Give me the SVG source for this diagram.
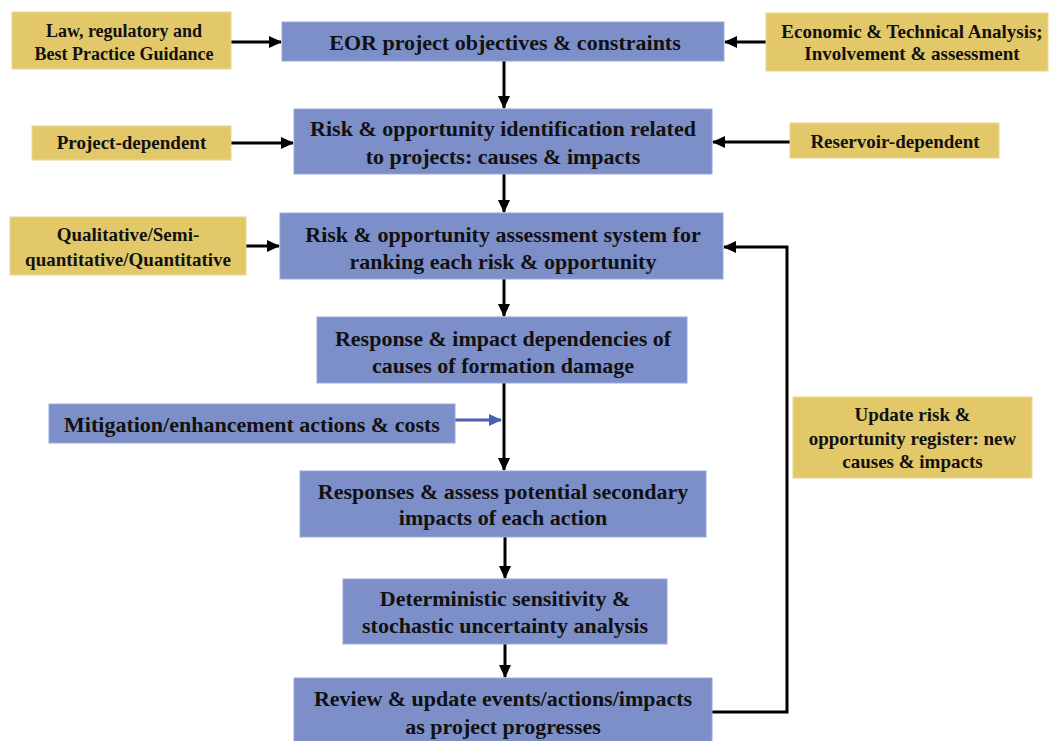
<svg xmlns="http://www.w3.org/2000/svg" width="1051" height="741" viewBox="0 0 1051 741">
<style>
.blue{fill:#7d8fc9;stroke:#9aa8d8;stroke-width:1}
.yel{fill:#e3c86a;stroke:#ecd690;stroke-width:1}
text{font-family:"Liberation Serif","Times New Roman",serif;font-weight:bold;fill:#111;text-anchor:middle}
.t20{font-size:22px}
.t17{font-size:19px}
.t18{font-size:18px}
.c{fill:none;stroke:#000;stroke-width:3}
.cb{fill:none;stroke:#4a5fb4;stroke-width:3}
</style>
<defs>
<marker id="ah" markerUnits="userSpaceOnUse" markerWidth="14" markerHeight="14" viewBox="0 0 14 14" refX="12" refY="7" orient="auto">
<path d="M0,1 L13,7 L0,13 Z" fill="#000"/>
</marker>
<marker id="ahb" markerUnits="userSpaceOnUse" markerWidth="14" markerHeight="14" viewBox="0 0 14 14" refX="12" refY="7" orient="auto">
<path d="M0,1 L13,7 L0,13 Z" fill="#4a5fb4"/>
</marker>
</defs>
<rect width="1051" height="741" fill="#fff"/>
<g id="connectors">
<path class="c" d="M231,42 H281" marker-end="url(#ah)"/>
<path class="c" d="M766,42 H725" marker-end="url(#ah)"/>
<path class="c" d="M504,61 V108" marker-end="url(#ah)"/>
<path class="c" d="M231,143 H293" marker-end="url(#ah)"/>
<path class="c" d="M790,142 H713" marker-end="url(#ah)"/>
<path class="c" d="M504,174 V212" marker-end="url(#ah)"/>
<path class="c" d="M246,246 H279" marker-end="url(#ah)"/>
<path class="c" d="M504,279 V316" marker-end="url(#ah)"/>
<path class="c" d="M504,383 V470" marker-end="url(#ah)"/>
<path class="cb" d="M455,420 H501" marker-end="url(#ahb)"/>
<path class="c" d="M505,537 V578" marker-end="url(#ah)"/>
<path class="c" d="M505,644 V677" marker-end="url(#ah)"/>
<path class="c" d="M712,712 H787 V247 H724" marker-end="url(#ah)"/>
</g>
<g id="law"><rect class="yel" x="12" y="12" width="219" height="57"/>
<text class="t18" x="124" y="37">Law, regulatory and</text>
<text class="t18" x="124" y="60">Best Practice Guidance</text></g>
<g id="eor"><rect class="blue" x="282" y="22" width="442" height="39"/>
<text class="t20" x="505" y="50">EOR project objectives &amp; constraints</text></g>
<g id="economic"><rect class="yel" x="766" y="13" width="282" height="58"/>
<text class="t17" x="912" y="38">Economic &amp; Technical Analysis;</text>
<text class="t17" x="912" y="60">Involvement &amp; assessment</text></g>
<g id="project"><rect class="yel" x="32" y="126" width="199" height="34"/>
<text class="t17" x="131.5" y="149">Project-dependent</text></g>
<g id="identification"><rect class="blue" x="294" y="109" width="418" height="65"/>
<text class="t20" x="503" y="136">Risk &amp; opportunity identification related</text>
<text class="t20" x="503" y="164">to projects: causes &amp; impacts</text></g>
<g id="reservoir"><rect class="yel" x="790" y="123" width="209" height="35"/>
<text class="t17" x="895" y="148">Reservoir-dependent</text></g>
<g id="qualitative"><rect class="yel" x="10" y="217" width="236" height="58"/>
<text class="t17" x="128" y="241">Qualitative/Semi-</text>
<text class="t17" x="128" y="266">quantitative/Quantitative</text></g>
<g id="assessment"><rect class="blue" x="280" y="213" width="443" height="66"/>
<text class="t20" x="503" y="242">Risk &amp; opportunity assessment system for</text>
<text class="t20" x="503" y="269">ranking each risk &amp; opportunity</text></g>
<g id="response"><rect class="blue" x="317" y="317" width="370" height="66"/>
<text class="t20" x="503" y="346">Response &amp; impact dependencies of</text>
<text class="t20" x="503" y="373">causes of formation damage</text></g>
<g id="mitigation"><rect class="blue" x="49" y="404" width="406" height="39"/>
<text class="t20" x="252" y="432">Mitigation/enhancement actions &amp; costs</text></g>
<g id="update"><rect class="yel" x="793" y="397" width="239" height="81"/>
<text class="t17" x="912.5" y="421">Update risk &amp;</text>
<text class="t17" x="912.5" y="445">opportunity register: new</text>
<text class="t17" x="912.5" y="468">causes &amp; impacts</text></g>
<g id="responses"><rect class="blue" x="300" y="471" width="406" height="66"/>
<text class="t20" x="503" y="499">Responses &amp; assess potential secondary</text>
<text class="t20" x="503" y="525">impacts of each action</text></g>
<g id="deterministic"><rect class="blue" x="343" y="579" width="324" height="65"/>
<text class="t20" x="505" y="606">Deterministic sensitivity &amp;</text>
<text class="t20" x="505" y="633">stochastic uncertainty analysis</text></g>
<g id="review"><rect class="blue" x="294" y="678" width="418" height="70"/>
<text class="t20" x="503" y="706">Review &amp; update events/actions/impacts</text>
<text class="t20" x="503" y="734">as project progresses</text></g>
</svg>
